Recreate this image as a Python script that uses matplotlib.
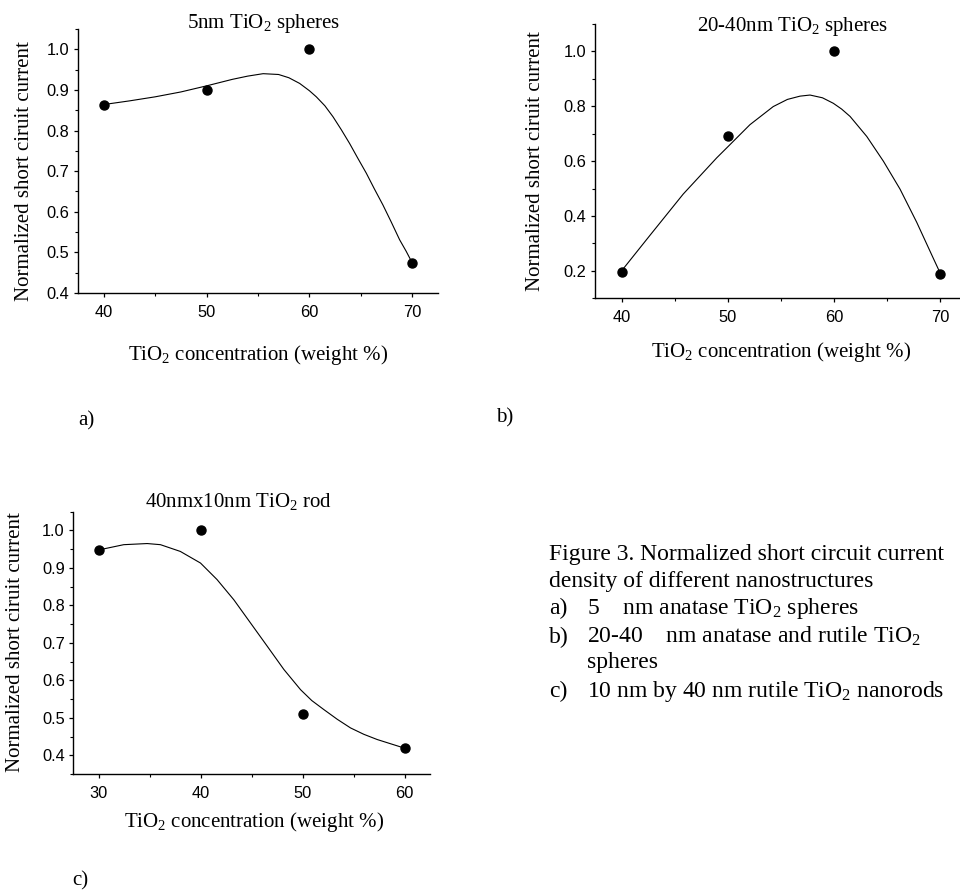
import matplotlib
matplotlib.use("Agg")
import matplotlib.pyplot as plt
from matplotlib.ticker import MultipleLocator

plt.rcParams['font.family'] = 'Liberation Serif'
plt.rcParams['mathtext.fontset'] = 'custom'
plt.rcParams['mathtext.rm'] = 'Liberation Serif'
plt.rcParams['mathtext.it'] = 'Liberation Serif:italic'

# Data: measured points
conc_a = [40, 50, 60, 70]
jsc_a = [0.864, 0.901, 1.0, 0.473]
conc_b = [40, 50, 60, 70]
jsc_b = [0.195, 0.690, 1.0, 0.187]
conc_c = [30, 40, 50, 60]
jsc_c = [0.948, 1.0, 0.510, 0.420]

# smooth guide curves
curve_a_x = [40, 42.5, 45, 47.5, 50, 52.5, 54, 55.5, 57, 58, 59.05, 60, 60.67, 61.5, 62.29, 63.1,
             63.91, 64.7, 65.53, 66.3, 67.14, 67.95, 68.77, 69.4, 70]
curve_a_y = [0.864, 0.873, 0.883, 0.895, 0.910, 0.926, 0.934, 0.940, 0.938, 0.930, 0.916, 0.898,
             0.883, 0.861, 0.834, 0.802, 0.768, 0.732, 0.695, 0.657, 0.617, 0.575, 0.531, 0.503, 0.474]
curve_b_x = [40, 42.66, 45.8, 48.95, 50.04, 52.08, 54.27, 55.6, 56.79, 57.73, 58.9, 59.92, 60.7,
             61.5, 63.07, 64.63, 66.2, 67.77, 69.34, 70]
curve_b_y = [0.200, 0.329, 0.480, 0.612, 0.654, 0.733, 0.799, 0.825, 0.837, 0.841, 0.831, 0.811,
             0.790, 0.763, 0.690, 0.600, 0.498, 0.377, 0.245, 0.190]
curve_c_x = [30, 32.45, 34.75, 36.05, 38.0, 39.98, 41.6, 43.25, 44.89, 46.53, 48.16, 49.8, 50.9,
             52.08, 53.4, 54.7, 56.0, 57.32, 58.6, 60]
curve_c_y = [0.948, 0.962, 0.965, 0.962, 0.944, 0.913, 0.869, 0.815, 0.753, 0.691, 0.629, 0.575,
             0.546, 0.522, 0.496, 0.473, 0.456, 0.442, 0.431, 0.419]

ylabel = 'Normalized short ciruit current'
xlabel = 'TiO$_2$ concentration (weight %)'

W, H = 960, 890
fig = plt.figure(figsize=(9.6, 8.9), dpi=100)


def make_axes(left, top, right, bottom):
    return fig.add_axes([left / W, 1 - bottom / H, (right - left) / W, (bottom - top) / H])


def style(ax, xlim, ylim, xmaj, xmin, ymaj, ymin):
    ax.set_xlim(*xlim)
    ax.set_ylim(*ylim)
    ax.xaxis.set_major_locator(MultipleLocator(xmaj))
    ax.xaxis.set_minor_locator(MultipleLocator(xmin))
    ax.yaxis.set_major_locator(MultipleLocator(ymaj))
    ax.yaxis.set_minor_locator(MultipleLocator(ymin))
    ax.yaxis.set_major_formatter(lambda v, p: f'{v:.1f}')
    for s in ['top', 'right']:
        ax.spines[s].set_visible(False)
    for s in ['left', 'bottom']:
        ax.spines[s].set_linewidth(1.0)
    ax.tick_params(which='major', direction='out', length=2.6, width=0.9)
    ax.tick_params(which='minor', direction='out', length=2.0, width=0.8)
    ax.tick_params(axis='x', pad=6)
    ax.tick_params(axis='y', pad=3.5)
    for lab in ax.get_xticklabels() + ax.get_yticklabels():
        lab.set_family('Liberation Sans')
        lab.set_fontsize(11.8)


def draw(ax, x, y, cx, cy):
    ax.plot(cx, cy, color='black', lw=0.8)
    ax.plot(x, y, 'o', color='black', ms=6.5)


# panel a
axa = make_axes(78, 29, 438, 293)
draw(axa, conc_a, jsc_a, curve_a_x, curve_a_y)
style(axa, (37.5, 72.5), (0.4, 1.05), 10, 5, 0.1, 0.05)
axa.set_title('5nm TiO$_2$ spheres', fontsize=15, x=(264 - 78) / 360, y=1 + 1 / 264, pad=0)
axa.set_ylabel(ylabel, fontsize=15, va='center')
axa.yaxis.set_label_coords((24.5 - 78) / 360, (293 - 171) / 264)
axa.set_xlabel(xlabel, fontsize=15, va='center')
axa.xaxis.set_label_coords((258 - 78) / 360, -(355 - 293) / 264)

# panel b
axb = make_axes(595, 24, 967, 298.3)
draw(axb, conc_b, jsc_b, curve_b_x, curve_b_y)
style(axb, (37.5, 72.5), (0.1, 1.1), 10, 5, 0.2, 0.1)
axb.set_title('20-40nm TiO$_2$ spheres', fontsize=15, x=(793 - 595) / 372, y=1 - 7 / 274.3, pad=0)
axb.set_ylabel(ylabel, fontsize=15, va='center')
axb.yaxis.set_label_coords((536 - 595) / 372, (298.3 - 161) / 274.3)
axb.set_xlabel(xlabel, fontsize=15, va='center')
axb.xaxis.set_label_coords((781 - 595) / 372, -(352 - 298.3) / 274.3)

# panel c
axc = make_axes(73.3, 511.7, 430, 774)
draw(axc, conc_c, jsc_c, curve_c_x, curve_c_y)
style(axc, (27.5, 62.5), (0.35, 1.05), 10, 5, 0.1, 0.05)
axc.set_title('40nmx10nm TiO$_2$ rod', fontsize=15, x=(239 - 73.3) / 356.7, y=1 + 5 / 262.3, pad=0)
axc.set_ylabel(ylabel, fontsize=15, va='center')
axc.yaxis.set_label_coords((16 - 73.3) / 356.7, (774 - 642.5) / 262.3)
axc.set_xlabel(xlabel, fontsize=15, va='center')
axc.xaxis.set_label_coords((254 - 73.3) / 356.7, -(822 - 774) / 262.3)

# panel letters
fig.text(78 / W, 1 - 425 / H, 'a)', fontsize=15, va='baseline')
fig.text(496 / W, 1 - 422 / H, 'b)', fontsize=15, va='baseline')
fig.text(72 / W, 1 - 885 / H, 'c)', fontsize=15, va='baseline')

# caption
cap = 17
fig.text(549 / W, 1 - 560 / H, 'Figure 3. Normalized short circuit current', fontsize=cap, va='baseline')
fig.text(549 / W, 1 - 587 / H, 'density of different nanostructures', fontsize=cap, va='baseline')
items = [('a)', '5    nm anatase TiO$_2$ spheres', 614),
         ('b)', '20-40    nm anatase and rutile TiO$_2$', 643),
         ('', 'spheres', 668),
         ('c)', '10 nm by 40 nm rutile TiO$_2$ nanorods', 697)]
for tag, txt, yb in items:
    if tag:
        fig.text(549 / W, 1 - yb / H, tag, fontsize=cap, va='baseline')
    fig.text(587 / W, 1 - yb / H, txt, fontsize=cap, va='baseline')

fig.savefig('out.png', dpi=100)
